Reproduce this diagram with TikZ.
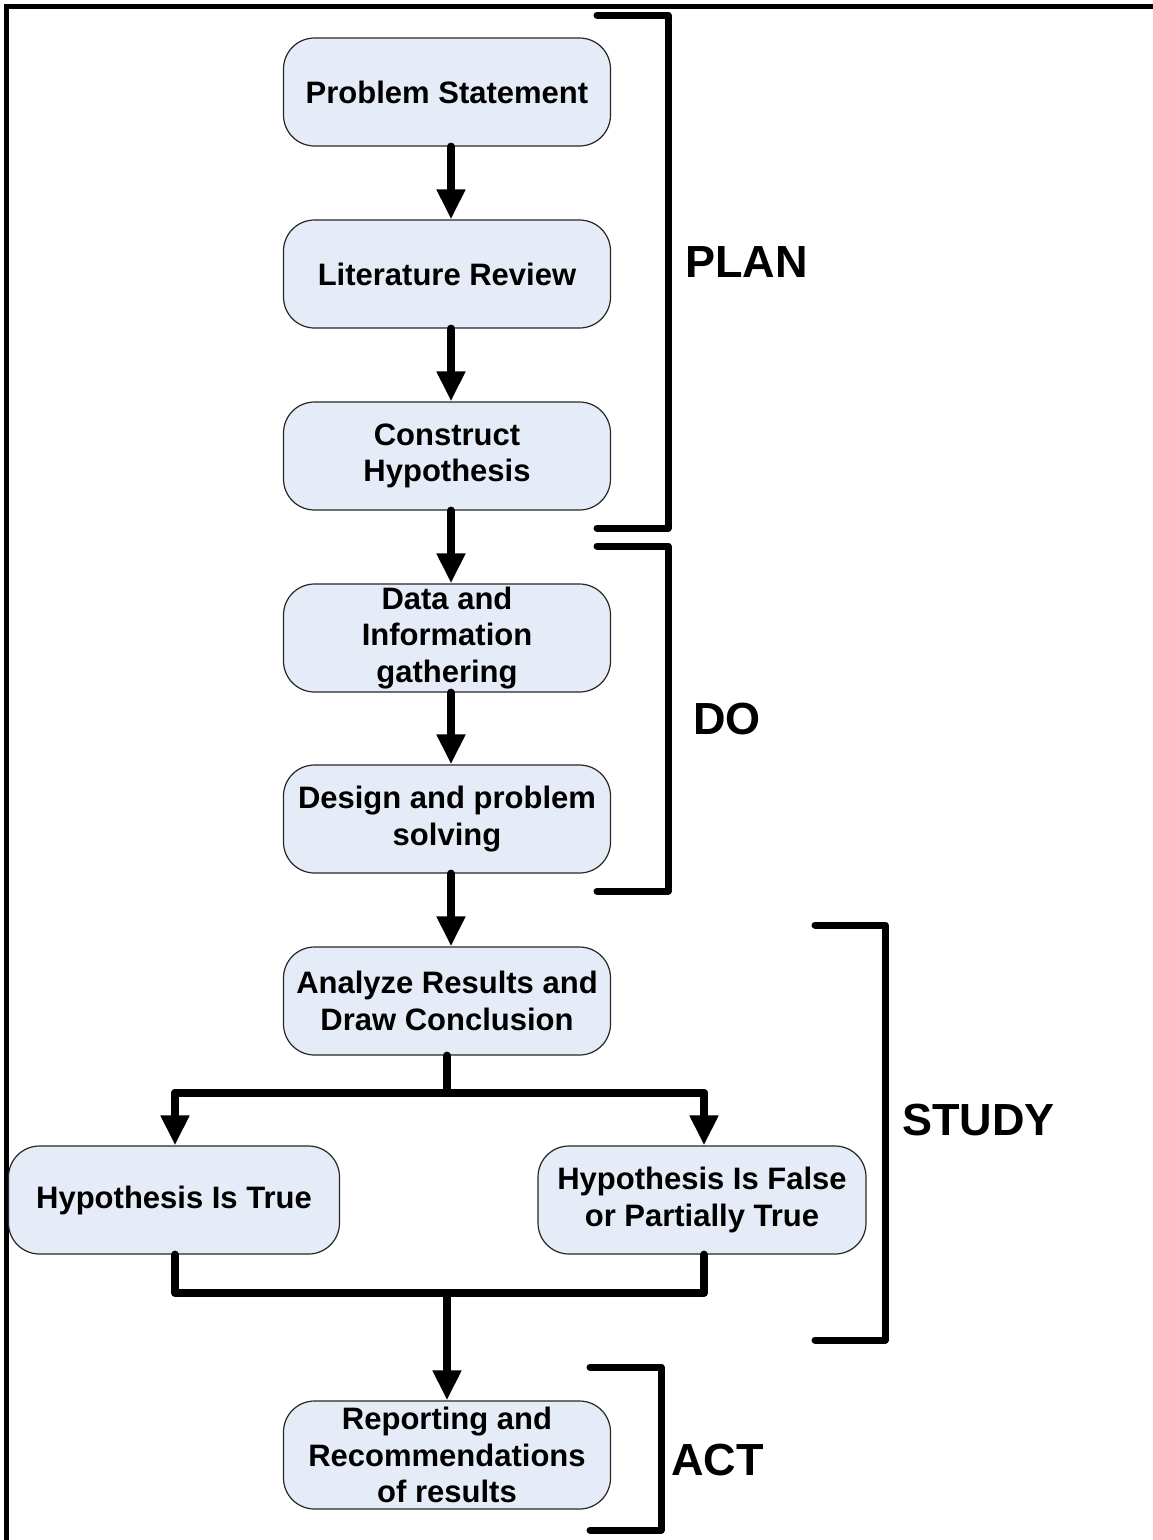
\documentclass[tikz,border=0pt]{standalone}
\usepackage{fontspec}
\setmainfont{Liberation Sans}
\usetikzlibrary{arrows.meta}
\definecolor{boxfill}{RGB}{230,236,247}
\begin{document}
\begin{tikzpicture}[x=1pt,y=-1pt,
  box/.style={draw=black!85, line width=1.2pt, fill=boxfill, rounded corners=31pt,
    minimum width=327pt, minimum height=108pt, align=center, inner sep=0pt,
    font=\fontsize{31}{36.5}\selectfont\bfseries},
  flow/.style={line width=8pt, line cap=round, -{Triangle[width=27pt,length=30pt]}},
  link/.style={line width=8pt, line cap=round, line join=round},
  phasebrace/.style={line width=7pt, line cap=round, line join=round},
  phase/.style={font=\fontsize{45}{54}\selectfont\bfseries, anchor=west, inner sep=0pt}]
\useasboundingbox (0,0) rectangle (1153,1540);
% page frame (only its top and left edges fall on the page)
\draw[line width=5pt] (6,1545) -- (6,6) -- (1160,6);

% process steps
\node[box] (ps)  at (447,92)   {Problem Statement};
\node[box] (lr)  at (447,274)  {Literature Review};
\node[box] (ch)  at (447,456)  {Construct\\Hypothesis};
\node[box] (dig) at (447,638)  {Data and\\Information\\gathering};
\node[box] (dps) at (447,819)  {Design and problem\\solving};
\node[box] (ar)  at (447,1001) {Analyze Results and\\Draw Conclusion};
\node[box, minimum width=331pt] (ht) at (174,1200) {Hypothesis Is True};
\node[box, minimum width=328pt] (hf) at (702,1200) {Hypothesis Is False\\or Partially True};
\node[box] (rr)  at (447,1455) {Reporting and\\Recommendations\\of results};

% straight flow
\draw[flow] ([xshift=4pt]ps.south)  -- ([xshift=4pt]lr.north);
\draw[flow] ([xshift=4pt]lr.south)  -- ([xshift=4pt]ch.north);
\draw[flow] ([xshift=4pt]ch.south)  -- ([xshift=4pt]dig.north);
\draw[flow] ([xshift=4pt]dig.south) -- ([xshift=4pt]dps.north);
\draw[flow] ([xshift=4pt]dps.south) -- ([xshift=4pt]ar.north);

% split after the analysis
\coordinate (split) at (447,1093);
\coordinate (splitL) at (175,1093);
\coordinate (splitR) at (704,1093);
\draw[link] (ar.south) -- (split);
\draw[link] (splitL) -- (splitR);
\draw[flow] (splitL) -- (splitL |- ht.north);
\draw[flow] (splitR) -- (splitR |- hf.north);

% merge before reporting
\coordinate (joinL) at (175,1293);
\coordinate (joinR) at (704,1293);
\coordinate (join) at (447,1293);
\draw[link] (joinL |- ht.south) -- (joinL) -- (joinR) -- (joinR |- hf.south);
\draw[flow] (join) -- (rr.north);

% phase brackets
\coordinate (planA) at (597,15);  \coordinate (planB) at (668,15);
\coordinate (planC) at (668,528); \coordinate (planD) at (597,528);
\draw[phasebrace] (planA) -- (planB) -- (planC) -- (planD);
\coordinate (doA) at (597,546);  \coordinate (doB) at (668,546);
\coordinate (doC) at (668,891);  \coordinate (doD) at (597,891);
\draw[phasebrace] (doA) -- (doB) -- (doC) -- (doD);
\coordinate (stA) at (815,925);  \coordinate (stB) at (885,925);
\coordinate (stC) at (885,1340); \coordinate (stD) at (815,1340);
\draw[phasebrace] (stA) -- (stB) -- (stC) -- (stD);
\coordinate (acA) at (590,1367);  \coordinate (acB) at (661,1367);
\coordinate (acC) at (661,1530);  \coordinate (acD) at (590,1530);
\draw[phasebrace] (acA) -- (acB) -- (acC) -- (acD);

% phase labels
\node[phase] (plan)  at (685,262)  {PLAN};
\node[phase] (do)    at (693,719)  {DO};
\node[phase] (study) at (902,1120) {STUDY};
\node[phase] (act)   at (671,1460) {ACT};
\end{tikzpicture}
\end{document}
